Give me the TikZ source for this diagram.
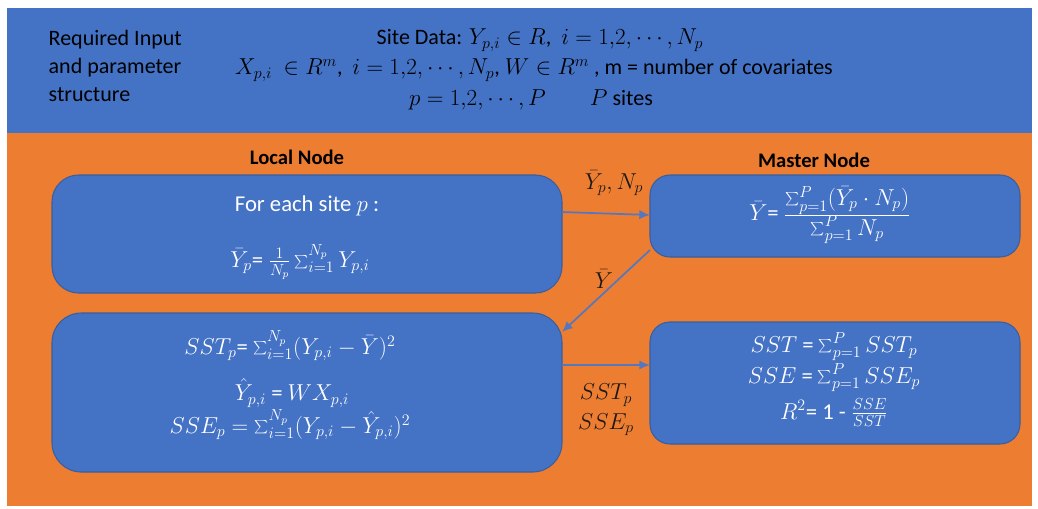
\documentclass[tikz,border=0pt]{standalone}
\usepackage{fontspec}
\setmainfont{Carlito}
\usetikzlibrary{arrows.meta}
\definecolor{bandblue}{HTML}{4472C4}
\definecolor{boxedge}{HTML}{3A5F9E}
\definecolor{bgorange}{HTML}{ED7D31}
\definecolor{arrowblue}{HTML}{5478C0}
\definecolor{labeldark}{HTML}{1A1A1A}
\tikzset{
  procbox/.style={draw=boxedge, line width=0.8pt, fill=bandblue, rounded corners=15pt},
  boxtext/.style={text=white, align=center, font=\fontsize{17}{21}\selectfont},
  hdrtext/.style={text=black, font=\fontsize{16.5}{21}\selectfont},
  title/.style={text=black, font=\fontsize{15.5}{18}\selectfont\bfseries},
  flowlabel/.style={text=labeldark, align=center, font=\fontsize{17}{22}\selectfont},
  flow/.style={draw=arrowblue, line width=1.3pt, -{Latex[length=8pt,width=7pt]}}
}
\begin{document}
\begin{tikzpicture}[x=0.75pt,y=-0.75pt]
\useasboundingbox (0,0) rectangle (1038,508);
\fill[white] (0,0) rectangle (1038,508);
% background bands
\fill[bgorange] (7,133) rectangle (1032,506);
\fill[bandblue] (7,8) rectangle (1032,133);
% header
\node[hdrtext, anchor=west, align=left] (req) at (44,66) {Required Input\\and parameter\\structure};
\node[hdrtext] (h1) at (540,40) {Site Data: $Y_{p,i}\in R$,\ \ $i = 1{,}2,\cdots,N_p$};
\node[hdrtext] (h2) at (534,70) {$X_{p,i}\ \in R^m$,\ \ $i=1{,}2,\cdots,N_p$, $W\in R^m$ , m = number of covariates};
\node[hdrtext] (h3) at (531,100) {$p=1{,}2,\cdots,P$\qquad$P$ sites};
% titles
\node[title] (tl) at (297,157) {Local Node};
\node[title] (tm) at (814,160) {Master Node};
% boxes
\draw[procbox, rounded corners=20pt] (52,175) rectangle (562,293);
\draw[procbox, rounded corners=22pt] (52,313) rectangle (562,472);
\draw[procbox] (650,175) rectangle (1020,257);
\draw[procbox] (650,322) rectangle (1020,444);
% box contents
\node[boxtext] (l1a) at (307,206) {For each site $p$ :};
\node[boxtext] (l1b) at (300,262) {$\bar{Y}_p$= $\frac{1}{N_p}\sum_{i=1}^{N_p} Y_{p,i}$};
\node[boxtext] (l2a) at (290,346) {$SST_p$= $\sum_{i=1}^{N_p}(Y_{p,i}-\bar{Y})^2$};
\node[boxtext] (l2b) at (292,393) {$\hat{Y}_{p,i}$ = $WX_{p,i}$};
\node[boxtext] (l2c) at (290,425) {$SSE_p = \sum_{i=1}^{N_p}(Y_{p,i}-\hat{Y}_{p,i})^2$};
\node[boxtext] (m1) at (830,215) {$\bar{Y}$= $\frac{\textstyle\sum_{p=1}^{P}(\bar{Y}_p\cdot N_p)}{\textstyle\sum_{p=1}^{P} N_p}$};
\node[boxtext] (m2a) at (834,347) {$SST$ = $\sum_{p=1}^{P} SST_p$};
\node[boxtext] (m2b) at (834,378) {$SSE$ = $\sum_{p=1}^{P} SSE_p$};
\node[boxtext] (m2c) at (834,413) {$R^2$= 1 - $\frac{SSE}{SST}$};
% connectors
\coordinate (a1s) at (562,212);
\coordinate (a1e) at (650,215);
\coordinate (a2s) at (650,250);
\coordinate (a2e) at (562,332);
\coordinate (a3s) at (562,365);
\coordinate (a3e) at (650,365);
\draw[flow] (a1s) -- (a1e);
\draw[flow] (a2s) -- (a2e);
\draw[flow] (a3s) -- (a3e);
\node[flowlabel] (lab1) at (614,183) {$\bar{Y}_p, N_p$};
\node[flowlabel] (lab2) at (604,279) {$\bar{Y}$};
\node[flowlabel] (lab3) at (606,410) {$SST_p$\\$SSE_p$};
\end{tikzpicture}
\end{document}
